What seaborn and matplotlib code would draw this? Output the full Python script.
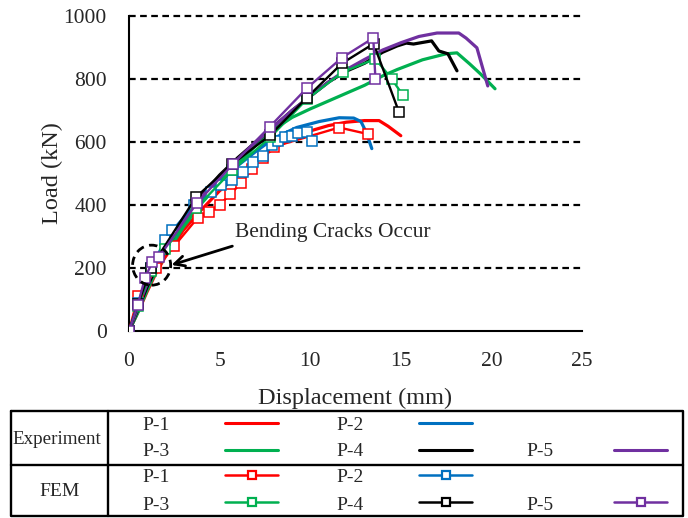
import numpy as np
import pandas as pd
import matplotlib
matplotlib.use("Agg")
import matplotlib.pyplot as plt
import seaborn as sns
from matplotlib.patches import Ellipse

# ---------------- data ----------------
exp_p1_x = [0, 0.5, 1, 1.5, 2, 3, 4, 5, 6, 7, 8, 9, 10, 11, 12, 13, 13.8, 14.3, 15]
exp_p1_y = [0, 60, 125, 185, 235, 320, 385, 445, 495, 540, 580, 610, 635, 652, 663, 668, 668, 650, 620]

exp_p2_x = [0, 0.5, 1, 1.5, 2, 3, 4, 5, 6, 7, 8, 9.25, 10.5, 11.6, 12.4, 12.8, 13.1, 13.4]
exp_p2_y = [0, 65, 135, 195, 245, 335, 410, 475, 525, 570, 612, 646, 665, 677, 676, 665, 630, 579]

exp_p3_x = [0, 0.5, 1, 1.5, 2, 3, 4, 5, 6, 7, 8, 9, 10, 11, 12, 13, 14, 14.8, 16.2, 17.5, 18.1, 18.8, 19.4, 20.2]
exp_p3_y = [0, 60, 130, 190, 240, 330, 405, 470, 530, 590, 640, 678, 705, 730, 755, 780, 810, 830, 861, 880, 883, 848, 816, 769]

exp_p4_x = [0, 0.5, 1, 1.5, 2, 3, 4, 5, 6, 7, 8, 9, 10, 11, 12, 13, 14, 14.8, 15.3, 15.7, 16.7, 17.1, 17.6, 18.1]
exp_p4_y = [0, 70, 140, 200, 255, 350, 430, 495, 550, 600, 650, 700, 745, 790, 825, 850, 885, 905, 914, 911, 921, 889, 880, 826]

exp_p5_x = [0, 0.5, 1, 1.5, 2, 3, 4, 5, 6, 7, 8, 9, 10, 11, 12, 13, 14, 15, 16, 17, 18.2, 18.6, 19.2, 19.8]
exp_p5_y = [0, 75, 150, 210, 260, 350, 425, 490, 545, 600, 650, 700, 745, 790, 830, 862, 892, 915, 935, 946, 946, 930, 899, 778]

fem_p1_x = [0, 0.5, 1.5, 2.5, 3.8, 4.4, 5.0, 5.6, 6.2, 6.8, 7.4, 8.0, 11.6, 13.2]
fem_p1_y = [0, 110, 200, 270, 360, 378, 400, 435, 470, 515, 550, 585, 646, 625]

fem_p2_x = [0, 0.5, 1.2, 2.0, 2.4, 3.6, 4.5, 5.1, 5.7, 6.3, 6.85, 7.4, 7.9, 8.2, 8.6, 9.0, 9.35, 9.8, 10.1]
fem_p2_y = [0, 90, 200, 290, 320, 400, 440, 465, 480, 505, 536, 557, 589, 604, 615, 620, 627, 631, 604]

fem_p3_x = [0, 0.5, 1.2, 2.0, 3.7, 5.7, 7.8, 9.8, 11.8, 13.6, 14.5, 15.1]
fem_p3_y = [0, 80, 190, 260, 390, 510, 615, 735, 822, 864, 800, 750]

fem_p4_x = [0, 0.5, 1.2, 3.7, 5.7, 7.8, 9.8, 11.76, 13.5, 14.9]
fem_p4_y = [0, 85, 200, 425, 530, 622, 740, 850, 912, 695]

fem_p5_x = [0, 0.48, 0.88, 1.28, 1.65, 3.73, 5.74, 7.78, 9.8, 11.76, 13.48, 13.6]
fem_p5_y = [0, 82, 168, 218, 234, 405, 530, 649, 770, 868, 930, 800]

labels = ["P-1", "P-2", "P-3", "P-4", "P-5"]
colors = ["#FF0000", "#0070C0", "#00B050", "#000000", "#7030A0"]
y_ticks = [0, 200, 400, 600, 800, 1000]
x_ticks = [0, 5, 10, 15, 20, 25]

exp_series = [(exp_p1_x, exp_p1_y), (exp_p2_x, exp_p2_y), (exp_p3_x, exp_p3_y),
              (exp_p4_x, exp_p4_y), (exp_p5_x, exp_p5_y)]
fem_series = [(fem_p1_x, fem_p1_y), (fem_p2_x, fem_p2_y), (fem_p3_x, fem_p3_y),
              (fem_p4_x, fem_p4_y), (fem_p5_x, fem_p5_y)]

# ---------------- style ----------------
sns.set_theme(style="white")
plt.rcParams['font.family'] = ['Liberation Serif', 'DejaVu Serif']

W, H = 688, 518
fig = plt.figure(figsize=(W / 100, H / 100), dpi=100)
L, R, T, B = 129, 582, 16, 331
ax = fig.add_axes([L / W, 1 - B / H, (R - L) / W, (B - T) / H])

for (xs, ys), c in zip(exp_series, colors):
    df = pd.DataFrame({"x": xs, "y": ys})
    sns.lineplot(data=df, x="x", y="y", ax=ax, color=c, lw=2.3, sort=False,
                 estimator=None, zorder=3)

for (xs, ys), c in zip(fem_series, colors):
    df = pd.DataFrame({"x": xs, "y": ys})
    sns.lineplot(data=df, x="x", y="y", ax=ax, color=c, lw=1.7, sort=False,
                 estimator=None, marker="s", markersize=6.5, markerfacecolor="white",
                 markeredgecolor=c, markeredgewidth=1.1, zorder=4)

ax.set_xlim(0, 25)
ax.set_ylim(0, 1000)
ax.set_xticks(x_ticks)
ax.set_yticks(y_ticks)
ax.set_xlabel("Displacement (mm)", fontsize=17.5)
ax.set_ylabel("Load (kN)", fontsize=17.5)
ax.xaxis.set_label_coords(0.5, -0.213)
ax.yaxis.set_label_coords(-0.17, 0.5)
ax.xaxis.label.set_va("center")
ax.yaxis.label.set_va("center")
ax.tick_params(axis="x", direction="in", length=5, width=1.2, pad=15, labelsize=15.5, color="black")
ax.tick_params(axis="y", direction="in", length=0, pad=16, labelsize=15.5)
for s in ["top", "right"]:
    ax.spines[s].set_visible(False)
for s in ["left", "bottom"]:
    ax.spines[s].set_color("black")
    ax.spines[s].set_linewidth(1.5)
for yv in y_ticks[1:]:
    ax.axhline(yv, color="black", lw=1.6, ls=(0, (3, 2)), zorder=1, clip_on=False)

# annotation
ax.text(5.85, 313, "Bending Cracks Occur", fontsize=15.5, ha="left", va="center", zorder=6)
ax.annotate("", xy=(2.2, 207), xytext=(5.85, 272),
            arrowprops=dict(arrowstyle="->", color="black", lw=2, mutation_scale=18), zorder=6)
ax.add_patch(Ellipse((1.25, 209), width=2.1, height=127, fill=False, ls=(0, (3, 2)),
                     lw=2, color="black", zorder=6))

# ---------------- legend table ----------------
lax = fig.add_axes([0, 0, 1, 1], facecolor="none")
lax.set_xlim(0, W)
lax.set_ylim(H, 0)
lax.axis("off")
tl, tr, tt, tm, tb, tv = 11, 683, 411, 465, 516, 108
k = dict(color="black", lw=1.7)
lax.plot([tl, tr, tr, tl, tl], [tt, tt, tb, tb, tt], **k)
lax.plot([tl, tr], [tm, tm], **k)
lax.plot([tv, tv], [tt, tb], **k)
lax.text(57, 439, "Experiment", fontsize=13.7, ha="center", va="center")
lax.text(60, 492, "FEM", fontsize=14, ha="center", va="center")

col_text = [156, 350, 156, 350, 540]
col_line = [(225, 278), (419, 472), (225, 278), (419, 472), (614, 667)]
exp_rows = [425, 425, 452, 452, 452]
fem_rows = [478, 478, 505, 505, 505]
for i in range(5):
    c = colors[i]
    x0, x1 = col_line[i]
    lax.text(col_text[i], exp_rows[i], labels[i], fontsize=14, ha="center", va="center")
    lax.plot([x0, x1], [exp_rows[i] - 2, exp_rows[i] - 2], color=c, lw=2.2)
    lax.text(col_text[i], fem_rows[i], labels[i], fontsize=14, ha="center", va="center")
    lax.plot([x0, x1], [fem_rows[i] - 3, fem_rows[i] - 3], color=c, lw=1.8)
    lax.plot([(x0 + x1) / 2], [fem_rows[i] - 3], marker="s", markersize=5.5,
             markerfacecolor="white", markeredgecolor=c, markeredgewidth=1.6)

fig.savefig("out.png", dpi=100)
